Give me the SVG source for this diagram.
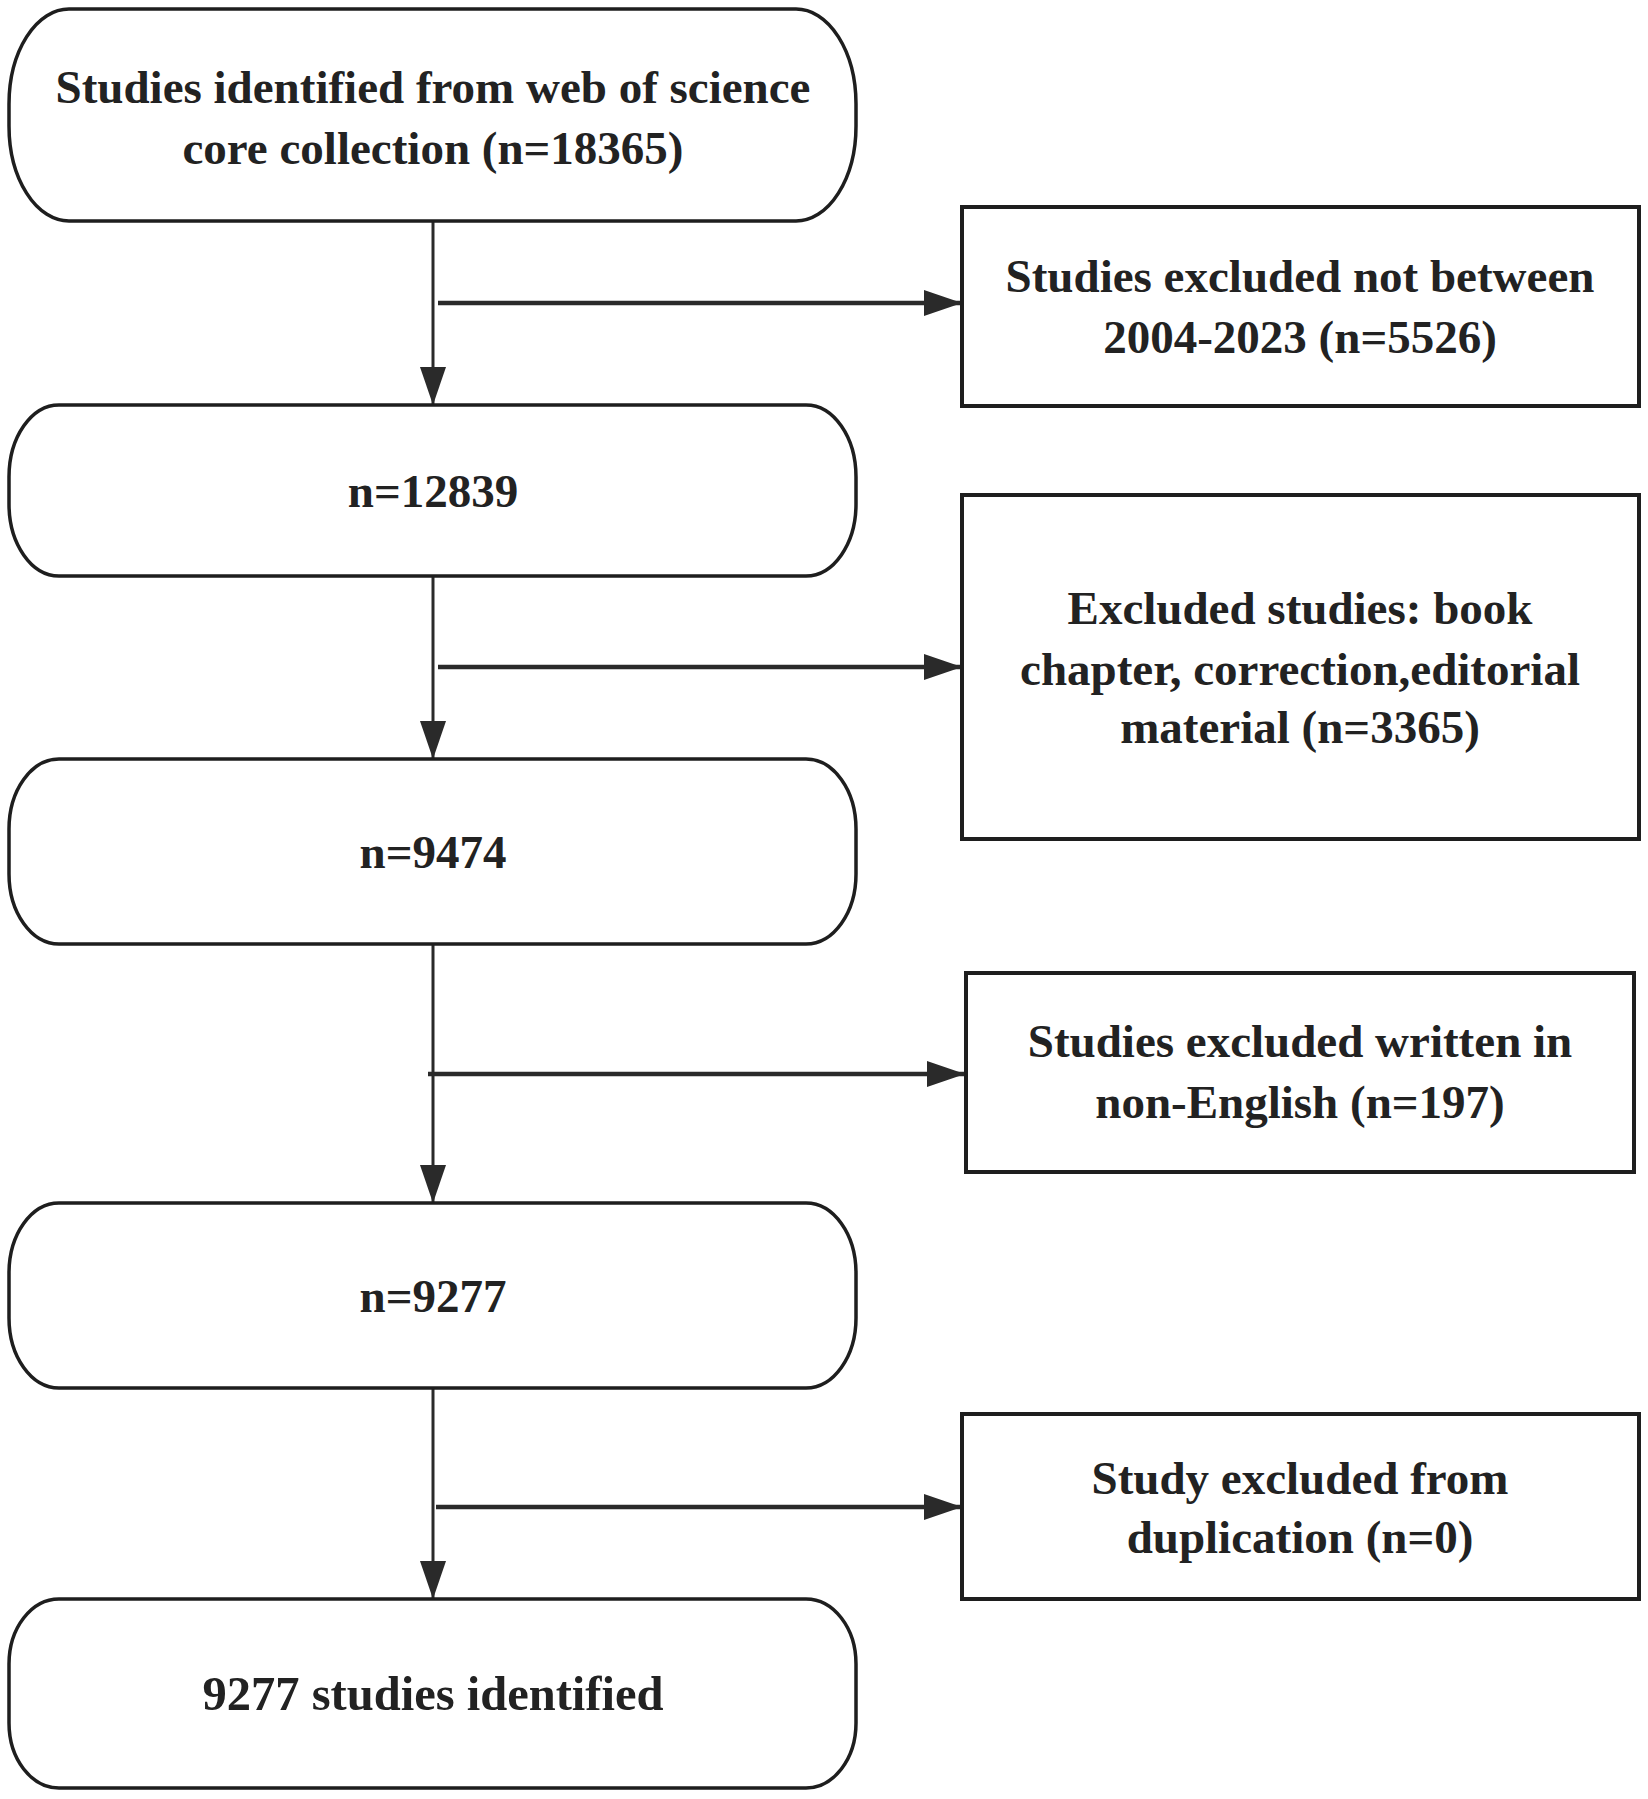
<svg xmlns="http://www.w3.org/2000/svg" width="1648" height="1799" viewBox="0 0 1648 1799">
<style>
.node{fill:#fff;stroke:#1e1e1e;stroke-width:3.5}
.box{fill:#fff;stroke:#1e1e1e;stroke-width:4}
.t{font-family:"Liberation Serif","Times New Roman",serif;font-weight:bold;font-size:47px;fill:#222;text-anchor:middle}
.v{stroke:#2a2a2a;stroke-width:3;fill:none}
.h{stroke:#2a2a2a;stroke-width:4.5;fill:none}
</style>
<defs>
<marker id="ah" markerUnits="userSpaceOnUse" markerWidth="40" markerHeight="30" refX="38" refY="13" orient="auto" viewBox="0 0 40 26">
<path d="M0,0 L38,13 L0,26 Z" fill="#2a2a2a"/>
</marker>
</defs>
<rect width="1648" height="1799" fill="#fff"/>
<g id="connectors">
<line class="v" x1="433" y1="221" x2="433" y2="405" marker-end="url(#ah)"/>
<line class="h" x1="438" y1="303" x2="962" y2="303" marker-end="url(#ah)"/>
<line class="v" x1="433" y1="576" x2="433" y2="759" marker-end="url(#ah)"/>
<line class="h" x1="438" y1="667" x2="962" y2="667" marker-end="url(#ah)"/>
<line class="v" x1="433" y1="944" x2="433" y2="1203" marker-end="url(#ah)"/>
<line class="h" x1="428" y1="1074" x2="965" y2="1074" marker-end="url(#ah)"/>
<line class="v" x1="433" y1="1388" x2="433" y2="1599" marker-end="url(#ah)"/>
<line class="h" x1="436" y1="1507" x2="962" y2="1507" marker-end="url(#ah)"/>
</g>
<g id="n1">
<rect class="node" x="9" y="9" width="847" height="212" rx="60" ry="95"/>
<text class="t" x="433" y="103">Studies identified from web of science</text>
<text class="t" x="433" y="164">core collection (n=18365)</text>
</g>
<g id="n2">
<rect class="node" x="9" y="405" width="847" height="171" rx="50" ry="72"/>
<text class="t" x="433" y="507">n=12839</text>
</g>
<g id="n3">
<rect class="node" x="9" y="759" width="847" height="185" rx="50" ry="70"/>
<text class="t" x="433" y="868">n=9474</text>
</g>
<g id="n4">
<rect class="node" x="9" y="1203" width="847" height="185" rx="50" ry="70"/>
<text class="t" x="433" y="1312">n=9277</text>
</g>
<g id="n5">
<rect class="node" x="9" y="1599" width="847" height="189" rx="50" ry="65"/>
<text class="t" x="433" y="1710" style="font-size:48.5px">9277 studies identified</text>
</g>
<g id="b1">
<rect class="box" x="962" y="207" width="677" height="199"/>
<text class="t" x="1300" y="292">Studies excluded not between</text>
<text class="t" x="1300" y="353">2004-2023 (n=5526)</text>
</g>
<g id="b2">
<rect class="box" x="962" y="495" width="677" height="344"/>
<text class="t" x="1300" y="624">Excluded studies: book</text>
<text class="t" x="1300" y="685">chapter, correction,editorial</text>
<text class="t" x="1300" y="743">material (n=3365)</text>
</g>
<g id="b3">
<rect class="box" x="966" y="973" width="668" height="199"/>
<text class="t" x="1300" y="1057">Studies excluded written in</text>
<text class="t" x="1300" y="1118">non-English (n=197)</text>
</g>
<g id="b4">
<rect class="box" x="962" y="1414" width="677" height="185"/>
<text class="t" x="1300" y="1494">Study excluded from</text>
<text class="t" x="1300" y="1553">duplication (n=0)</text>
</g>
</svg>
